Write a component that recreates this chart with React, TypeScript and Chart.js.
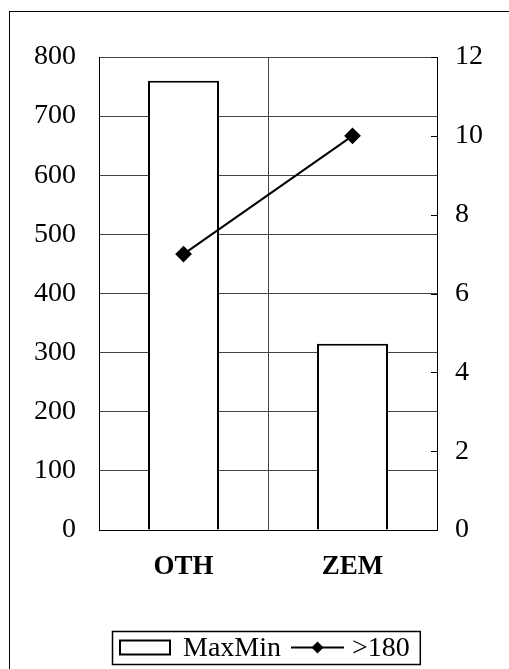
import React, { useEffect, useRef } from "react";
import { Chart, registerables } from "chart.js";

Chart.register(...registerables);

const categories = ["OTH", "ZEM"];
const maxMinValues = [760, 315];
const over180Values = [7, 10];
const leftAxis = { min: 0, max: 800, step: 100 };
const rightAxis = { min: 0, max: 12, step: 2 };
const seriesNames = ["MaxMin", ">180"];

const FONT = "'Liberation Serif', 'Times New Roman', serif";

const innerTicksPlugin = {
  id: "innerTicks",
  afterDraw(chart: any) {
    const ctx = chart.ctx;
    const s = chart.scales.y2;
    const area = chart.chartArea;
    ctx.save();
    ctx.strokeStyle = "#000";
    ctx.lineWidth = 1;
    s.ticks.forEach((t: any) => {
      const y = Math.round(s.getPixelForValue(t.value)) + 0.5;
      ctx.beginPath();
      ctx.moveTo(area.right - 6, y);
      ctx.lineTo(area.right, y);
      ctx.stroke();
    });
    ctx.restore();
  },
};

const legendPlugin = {
  id: "boxLegend",
  afterDraw(chart: any) {
    const ctx = chart.ctx;
    const area = chart.chartArea;
    ctx.save();
    ctx.font = `28px ${FONT}`;
    ctx.fillStyle = "#000";
    ctx.strokeStyle = "#000";
    const sw = 50;
    const lw = 53;
    const gap1 = 13;
    const gap2 = 8;
    const between = 10;
    const padL = 8;
    const padR = 10;
    const w1 = ctx.measureText(seriesNames[0]).width;
    const w2 = ctx.measureText(seriesNames[1]).width;
    const total = padL + sw + gap1 + w1 + between + lw + gap2 + w2 + padR;
    const cx = (area.left + area.right) / 2 - 2;
    const left = Math.round(cx - total / 2);
    const top = 631;
    const h = 33;
    const midY = top + h / 2;
    ctx.lineWidth = 1.5;
    ctx.strokeRect(left + 0.5, top + 0.5, total, h);
    let x = left + padL;
    ctx.lineWidth = 2;
    ctx.fillStyle = "#fff";
    ctx.fillRect(x, midY - 7, sw, 14);
    ctx.strokeRect(x, midY - 7, sw, 14);
    x += sw + gap1;
    ctx.fillStyle = "#000";
    ctx.textBaseline = "middle";
    ctx.textAlign = "left";
    ctx.fillText(seriesNames[0], x, midY + 1);
    x += w1 + between;
    ctx.lineWidth = 2;
    ctx.beginPath();
    ctx.moveTo(x, midY);
    ctx.lineTo(x + lw, midY);
    ctx.stroke();
    const dx = x + lw / 2;
    ctx.beginPath();
    ctx.moveTo(dx, midY - 6);
    ctx.lineTo(dx + 6, midY);
    ctx.lineTo(dx, midY + 6);
    ctx.lineTo(dx - 6, midY);
    ctx.closePath();
    ctx.fill();
    x += lw + gap2;
    ctx.fillText(seriesNames[1], x, midY + 1);
    ctx.restore();
  },
};

export default function App() {
  const ref = useRef<HTMLCanvasElement | null>(null);
  useEffect(() => {
    if (!ref.current) return;
    const chart = new Chart(ref.current, {
      type: "bar",
      data: {
        labels: categories,
        datasets: [
          {
            type: "line",
            label: seriesNames[1],
            data: over180Values,
            yAxisID: "y2",
            borderColor: "#000",
            backgroundColor: "#000",
            borderWidth: 2,
            pointStyle: "rectRot",
            pointRadius: 7,
            pointBackgroundColor: "#000",
            pointBorderColor: "#000",
            order: 0,
          } as any,
          {
            type: "bar",
            label: seriesNames[0],
            data: maxMinValues,
            yAxisID: "y",
            backgroundColor: "#fff",
            borderColor: "#000",
            borderWidth: 2,
            categoryPercentage: 1,
            barPercentage: 0.42,
            order: 1,
          } as any,
        ],
      },
      options: {
        responsive: false,
        devicePixelRatio: 1,
        animation: false,
        layout: { padding: { top: 57, left: 0, right: 0, bottom: 0 } },
        plugins: { legend: { display: false }, tooltip: { enabled: false } },
        scales: {
          x: {
            offset: true,
            grid: { offset: true, color: "#444", lineWidth: 1, drawTicks: false },
            border: { display: true, color: "#000", width: 1 },
            ticks: { color: "#000", font: { family: FONT, size: 27, weight: "bold" }, padding: 21 },
            afterFit: (s: any) => { s.height = 139; },
          },
          y: {
            position: "left",
            min: leftAxis.min,
            max: leftAxis.max,
            grid: { color: "#444", lineWidth: 1, drawTicks: false },
            border: { display: true, color: "#000", width: 1 },
            ticks: { stepSize: leftAxis.step, color: "#000", font: { family: FONT, size: 28 }, padding: 23 },
            afterFit: (s: any) => { s.width = 99; },
          },
          y2: {
            position: "right",
            min: rightAxis.min,
            max: rightAxis.max,
            grid: { drawOnChartArea: false, drawTicks: false },
            border: { display: true, color: "#000", width: 1 },
            ticks: { stepSize: rightAxis.step, color: "#000", font: { family: FONT, size: 28 }, padding: 18 },
            afterFit: (s: any) => { s.width = 72; },
          },
        },
      },
      plugins: [innerTicksPlugin, legendPlugin],
    });
    return () => chart.destroy();
  }, []);
  return (
    <div style={{ position: "fixed", left: 0, top: 0, width: 509, height: 669, overflow: "hidden", background: "#fff" }}>
      <div style={{ position: "absolute", left: 9, top: 11, width: 600, height: 700, borderLeft: "1px solid #000", borderTop: "1px solid #000" }} />
      <canvas ref={ref} width={509} height={669} style={{ position: "absolute", left: 0, top: 0, display: "block" }} />
    </div>
  );
}
